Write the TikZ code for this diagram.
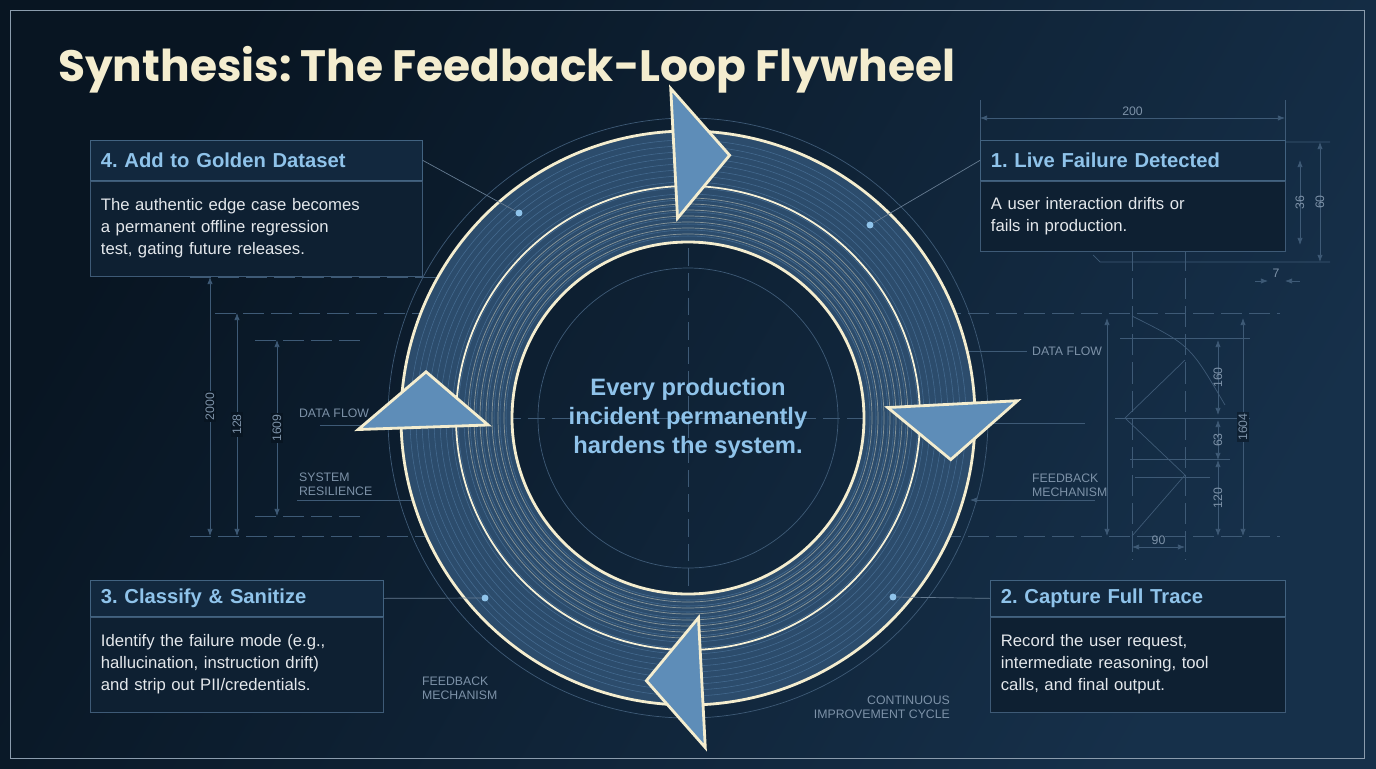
\documentclass[tikz,border=0pt]{standalone}
\usepackage{fontspec}
\setmainfont{Liberation Sans}
\newfontfamily\titlefont{Poppins}
\usetikzlibrary{positioning,arrows.meta,calc}
\frenchspacing
\definecolor{bgdark}{HTML}{081522}
\definecolor{bglight}{HTML}{16304A}
\definecolor{cream}{HTML}{F4EDCF}
\definecolor{headblue}{HTML}{8FC3EA}
\definecolor{bodytext}{HTML}{E3E7EB}
\definecolor{bpline}{HTML}{3E5A76}
\definecolor{bptext}{HTML}{7D92A8}
\definecolor{ringblue}{HTML}{2C4C6C}
\definecolor{headfill}{HTML}{5E8DB8}
\tikzset{
	bp/.style={draw=bpline, thin},
	dim/.style={bp, {Latex[length=4pt]}-{Latex[length=4pt]}},
	bplabel/.style={text=bptext, font=\fontsize{7}{8}\selectfont, align=left, inner sep=1pt},
	boxhead/.style={draw=headfill!70!black, fill=bglight!70!bgdark, text=headblue, font=\bfseries\fontsize{11.5}{13}\selectfont, anchor=north west, inner xsep=6pt, inner ysep=0pt, text width=#1},
	boxbody/.style={draw=bpline, fill=bgdark!60!bglight, text=bodytext, font=\fontsize{9.5}{12.5}\selectfont, align=left, anchor=north west, inner xsep=6pt, inner ysep=6pt, text width=#1},
	dot/.style={circle, fill=headblue, inner sep=1.4pt},
	leader/.style={draw=bpline!80!white, thin},
}
\begin{document}
\begin{tikzpicture}[x=0.02cm, y=-0.02cm]
	\useasboundingbox (0,0) rectangle (1376,768);
	%background
	\shade[left color=bgdark, right color=bglight, shading angle=60] (0,0) rectangle (1376,768);
	\draw[bpline!60] (10,10) rectangle (1364,758);
	%title
	\node[anchor=west, text=cream, font=\titlefont\bfseries\fontsize{25}{28}\selectfont] (title) at (52,70) {Synthesis: The Feedback-Loop Flywheel};
	%blueprint: crosshair and guide circle
	\coordinate (c) at (688,418);
	\draw[bp, dash pattern=on 10pt off 4pt] (688,150) -- (688,690) (380,418) -- (1000,418);
	\draw[bp] (c) circle (300);
	\draw[bp] (c) circle (150);
	%blueprint: left dimensions
	\draw[bp, dash pattern=on 12pt off 4pt] (190,277) -- (440,277) (190,536) -- (440,536) (215,313) -- (440,313) (255,340) -- (360,340) (255,516) -- (360,516);
	\draw[dim] (210,277) -- node[bplabel, rotate=90, fill=bgdark] {2000} (210,536);
	\draw[dim] (237,313) -- node[bplabel, rotate=90, fill=bgdark] {128} (237,536);
	\draw[dim] (277,340) -- node[bplabel, rotate=90, fill=bgdark] {1609} (277,516);
	\node[bplabel, anchor=west] (dfl) at (297,413) {DATA FLOW};
	\draw[bp] (320,425) -- (385,425);
	\node[bplabel, anchor=west] (srl) at (297,484) {SYSTEM\\RESILIENCE};
	\draw[bp] (297,500) -- (420,500);
	%blueprint: right dimensions
	\draw[dim] (980,118) -- node[bplabel, above] {200} (1285,118);
	\draw[bp] (980,100) -- (980,140) (1285,100) -- (1285,140);
	\draw[dim] (1300,160) -- node[bplabel, rotate=90] {36} (1300,245);
	\draw[dim] (1320,142) -- node[bplabel, rotate=90] {60} (1320,262);
	\draw[bp] (1285,142) -- (1330,142) (1100,262) -- (1330,262) (1100,262) -- (1093,255);
	\draw[bp, -{Latex[length=4pt]}] (1255,281) -- (1268,281);
	\draw[bp, {Latex[length=4pt]}-] (1285,281) -- (1300,281);
	\node[bplabel] (sev) at (1276,273) {7};
	\draw[bp, dash pattern=on 12pt off 4pt] (940,313) -- (1280,313) (940,536) -- (1280,536) (1132,250) -- (1132,560) (1185,250) -- (1185,560);
	\draw[bp] (1120,338) -- (1250,338) (1115,418) -- (1250,418) (1130,459) -- (1230,459) (1135,477) -- (1210,477);
	\draw[bp] (1132,536) -- (1185,475) -- (1125,418) -- (1185,360) (1132,316) .. controls (1190,345) .. (1225,405);
	\draw[dim] (1107,318) -- (1107,536);
	\draw[dim] (1243,318) -- node[bplabel, rotate=90, fill=bgdark!60!bglight] {1604} (1243,536);
	\draw[dim] (1218,340) -- node[bplabel, rotate=90] {160} (1218,415);
	\draw[dim] (1218,420) -- node[bplabel, rotate=90] {63} (1218,460);
	\draw[dim] (1218,460) -- node[bplabel, rotate=90] {120} (1218,536);
	\draw[dim] (1132,547) -- node[bplabel, above] {90} (1185,547);
	\node[bplabel, anchor=west] (dfr) at (1030,351) {DATA FLOW};
	\draw[bp] (960,351) -- (1027,351) (960,423) -- (1085,423);
	\node[bplabel, anchor=west] (fbr) at (1030,485) {FEEDBACK\\MECHANISM};
	\draw[bp, -{Latex[length=4pt]}] (1095,500) -- (970,500);
	%blueprint: bottom labels
	\node[bplabel, anchor=west] (fbl) at (420,688) {FEEDBACK\\MECHANISM};
	\node[bplabel, align=right, anchor=east] (cic) at (952,707) {CONTINUOUS\\IMPROVEMENT CYCLE};
	%ring
	\fill[ringblue, even odd rule] (c) circle (287) (c) circle (176);
	\foreach \r in {182,188,...,282}
		\draw[headfill!50!ringblue, line width=0.3pt] (c) circle (\r);
	\foreach \r in {184,190,...,220}
		\draw[cream!45!ringblue, line width=0.4pt] (c) circle (\r);
	\draw[cream, line width=1.6pt] (c) circle (176) (c) circle (287);
	\draw[cream!80, line width=1pt] (c) circle (232);
	%arrow heads
	\foreach \t in {279,9,99,190}
		\filldraw[fill=headfill, draw=cream, line width=1.6pt, line join=miter]
		($(c)+(\t-12:200)$) -- ($(c)+(\t-12:330)$) -- ($(c)+(\t:266)$) -- cycle;
	%center text
	\node[text=headblue, font=\bfseries\fontsize{13.5}{16.5}\selectfont, align=center] (claim) at (c) {Every production\\incident permanently\\hardens the system.};
	%boxes
	\node[boxhead=6.22cm, minimum height=0.8cm] (h4) at (90,140) {4. Add to Golden Dataset};
	\node[boxbody=6.22cm, below=0pt of h4.south west, anchor=north west, minimum height=1.9cm] (b4) {The authentic edge case becomes\\a permanent offline regression\\test, gating future releases.};
	\node[boxhead=5.68cm, minimum height=0.8cm] (h1) at (980,140) {1. Live Failure Detected};
	\node[boxbody=5.68cm, below=0pt of h1.south west, anchor=north west, minimum height=1.4cm] (b1) {A user interaction drifts or\\fails in production.};
	\node[boxhead=5.44cm, minimum height=0.72cm] (h3) at (90,580) {3. Classify \& Sanitize};
	\node[boxbody=5.44cm, below=0pt of h3.south west, anchor=north west, minimum height=1.9cm] (b3) {Identify the failure mode (e.g.,\\hallucination, instruction drift)\\and strip out PII/credentials.};
	\node[boxhead=5.48cm, minimum height=0.72cm] (h2) at (990,580) {2. Capture Full Trace};
	\node[boxbody=5.48cm, below=0pt of h2.south west, anchor=north west, minimum height=1.9cm] (b2) {Record the user request,\\intermediate reasoning, tool\\calls, and final output.};
	%leaders
	\node[dot] (d4) at (519,213) {};
	\node[dot] (d1) at (870,225) {};
	\node[dot] (d3) at (485,598) {};
	\node[dot] (d2) at (893,597) {};
	\draw[leader] (h4.east) -- (d4);
	\draw[leader] (h1.west) -- (d1);
	\draw[leader] (h3.east) -- (d3);
	\draw[leader] (h2.west) -- (d2);
\end{tikzpicture}
\end{document}
